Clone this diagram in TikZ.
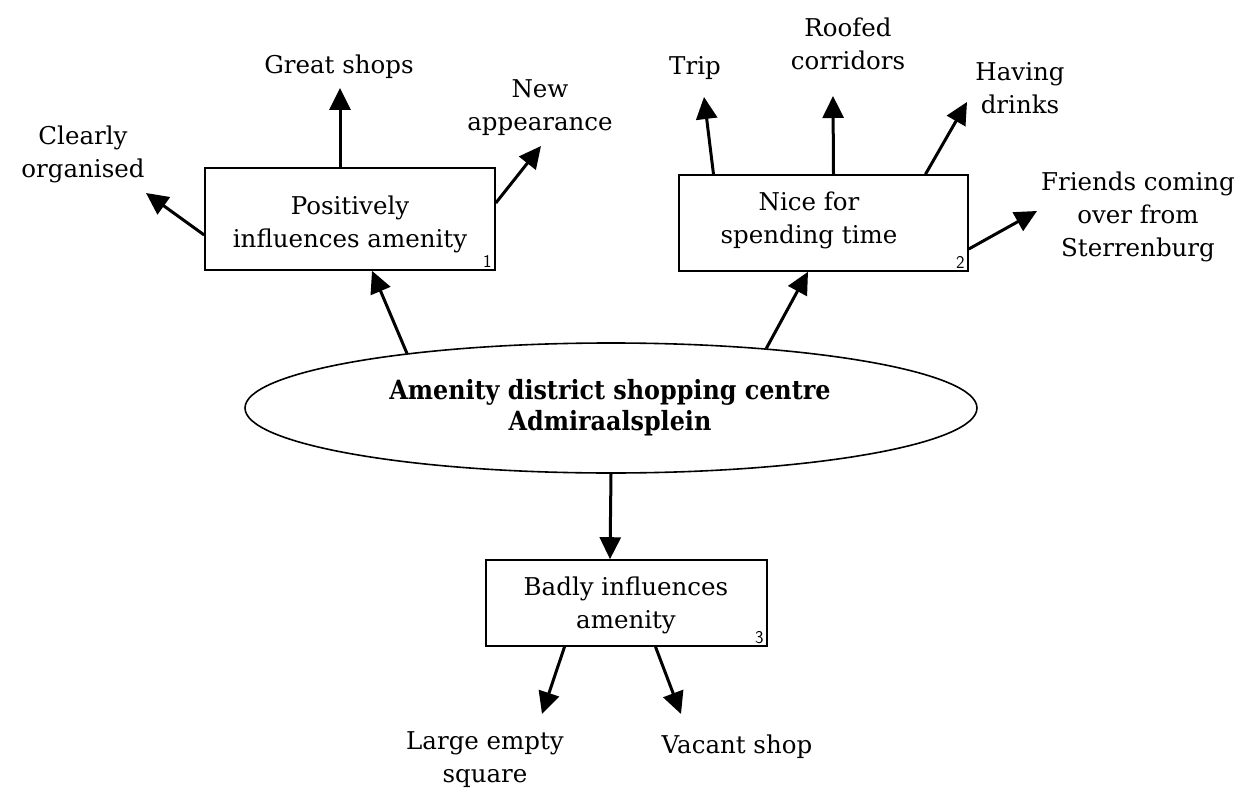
\documentclass[tikz,border=0pt]{standalone}
\usepackage{fontspec}
\setmainfont{DejaVu Serif}
\newfontfamily\condbold{DejaVu Serif Condensed}[BoldFont={DejaVu Serif Condensed Bold}]
\usetikzlibrary{arrows.meta,shapes.geometric}
\begin{document}
\begin{tikzpicture}[x=1pt,y=-1pt,
  txt/.style={align=center,font=\fontsize{24.5}{33}\selectfont,inner sep=0pt},
  boxnode/.style={draw,line width=1.6pt,inner sep=0pt},
  numlbl/.style={font=\sffamily\fontsize{18}{18}\selectfont,inner sep=0pt},
  arr/.style={line width=3pt,-{Triangle[length=22pt,width=21pt]}}]
\useasboundingbox (0,0) rectangle (1245,789);

% central ellipse
\node[draw,ellipse,line width=1.6pt,minimum width=732pt,minimum height=130pt,inner sep=0pt] (core) at (611,408) {};
\node[align=center,font=\condbold\bfseries\fontsize{26.5}{31}\selectfont,inner sep=0pt] (coretxt) at (610,408)
  {Amenity district shopping centre\\Admiraalsplein};

% three category boxes
\node[boxnode,minimum width=290pt,minimum height=102pt] (b1) at (350,219) {};
\node[txt] (b1t) at (350,224) {Positively\\influences amenity};
\node[numlbl,anchor=south east] (n1) at ([xshift=-4pt,yshift=3pt]b1.south east) {1};

\node[boxnode,minimum width=289pt,minimum height=96pt] (b2) at (823.5,223) {};
\node[txt] (b2t) at (809,220) {Nice for\\spending time};
\node[numlbl,anchor=south east] (n2) at ([xshift=-4pt,yshift=3pt]b2.south east) {2};

\node[boxnode,minimum width=281pt,minimum height=86pt] (b3) at (626.5,603) {};
\node[txt] (b3t) at (626,605) {Badly influences\\amenity};
\node[numlbl,anchor=south east] (n3) at ([xshift=-4pt,yshift=3pt]b3.south east) {3};

% outer labels
\node[txt] (gs) at (339,67) {Great shops};
\node[txt] (co) at (83,154) {Clearly\\organised};
\node[txt] (na) at (540,108) {New\\appearance};
\node[txt] (trip) at (695,68) {Trip};
\node[txt] (rc) at (848,44) {Roofed\\corridors};
\node[txt] (hd) at (1020,88) {Having\\drinks};
\node[txt] (fr) at (1138,217) {Friends coming\\over from\\Sterrenburg};
\node[txt] (les) at (485,760) {Large empty\\square};
\node[txt] (vs) at (737,747) {Vacant shop};

% arrow tips in front of the labels
\coordinate (gsA) at (340,88);
\coordinate (coA) at (146,193);
\coordinate (naA) at (541,146);
\coordinate (tripA) at (704,97);
\coordinate (rcA) at (833,96);
\coordinate (hdA) at (967,102);
\coordinate (frA) at (1037,211);
\coordinate (lesA) at (542,714);
\coordinate (vsA) at (681,714);

% from the ellipse to the category boxes
\draw[arr] (core.165) -- ([xshift=22pt]b1.south);
\draw[arr] (core.21.2) -- ([xshift=-15.5pt]b2.south);
\draw[arr] (core.south) -- ([xshift=-16.5pt]b3.north);

% box 1 to its labels
\draw[arr] ([xshift=-10pt]b1.north) -- (gsA);
\draw[arr] ([yshift=-16pt]b1.west) -- (coA);
\draw[arr] ([yshift=16pt]b1.east) -- (naA);

% box 2 to its labels
\draw[arr] ([xshift=-110pt]b2.north) -- (tripA);
\draw[arr] ([xshift=10pt]b2.north) -- (rcA);
\draw[arr] ([xshift=102pt]b2.north) -- (hdA);
\draw[arr] ([yshift=-26pt]b2.east) -- (frA);

% box 3 to its labels
\draw[arr] ([xshift=-62pt]b3.south) -- (lesA);
\draw[arr] ([xshift=29pt]b3.south) -- (vsA);
\end{tikzpicture}
\end{document}
